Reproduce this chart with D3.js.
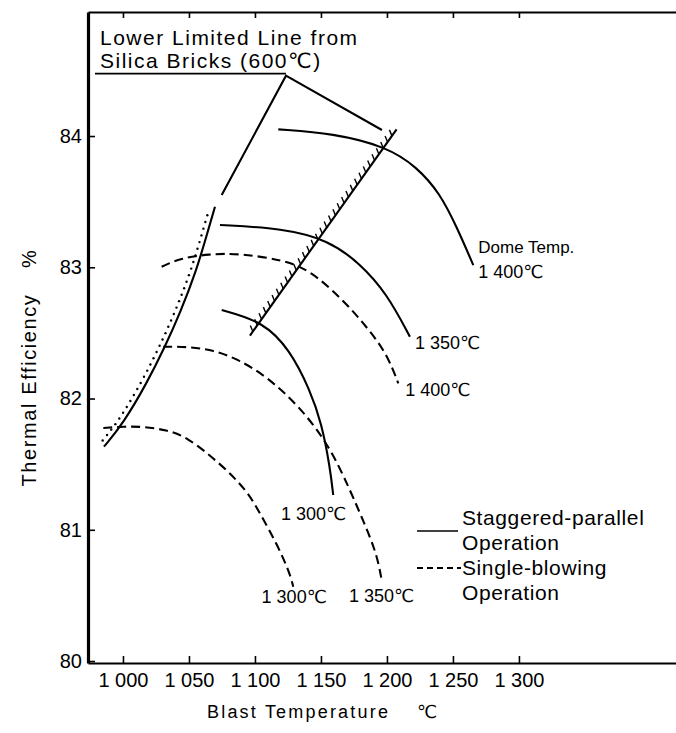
<!DOCTYPE html>
<html><head><meta charset="utf-8">
<script src="https://cdn.jsdelivr.net/npm/d3@7"></script>
<style>body{margin:0;background:#fff} svg{display:block;background:#fff}</style>
</head><body><svg id="c" width="676" height="733"></svg>
<script>
// ---------------- data ----------------
const xTicks = [1000, 1050, 1100, 1150, 1200, 1250, 1300];
const xTickLabels = ["1 000", "1 050", "1 100", "1 150", "1 200", "1 250", "1 300"];
const yTicks = [80, 81, 82, 83, 84];
const yTickLabels = ["80", "81", "82", "83", "84"];

// Staggered-parallel operation (solid), [blast temp, thermal efficiency]
const staggered1400 = [[1117.7,84.051],[1159.3,84.021],[1199.8,83.918],[1222.5,83.766],[1240.2,83.563],[1252.8,83.309],[1265.4,83.017]];
const staggered1350 = [[1073.5,83.322],[1121.4,83.297],[1155.5,83.208],[1179.5,83.030],[1199.8,82.802],[1217.4,82.471]];
const staggered1300 = [[1074.8,82.674],[1106.3,82.585],[1126.5,82.370],[1141.7,82.065],[1150.5,81.811],[1156.8,81.480],[1159.3,81.265]];

// Single-blowing operation (dashed)
const single1400 = [[1029.3,83.004],[1043.2,83.068],[1064.6,83.101],[1088.6,83.106],[1121.4,83.055],[1141.7,82.979],[1166.9,82.750],[1184.6,82.547],[1199.8,82.344],[1208.6,82.116]];
const single1350 = [[1030.5,82.395],[1048.3,82.395],[1068.4,82.370],[1088.6,82.293],[1108.9,82.166],[1134.1,81.938],[1156.8,81.633],[1172.0,81.303],[1182.0,81.070],[1192.2,80.821],[1196.0,80.617]];
const single1300 = [[985.1,81.775],[1000.2,81.787],[1015.2,81.787],[1033.1,81.760],[1048.3,81.709],[1073.5,81.506],[1093.7,81.303],[1103.8,81.125],[1116.4,80.897],[1126.5,80.668],[1129.0,80.566]];

// Limit lines
const leftLimitCurve = [[985.6,81.633],[1000.2,81.811],[1018.0,82.116],[1031.8,82.395],[1043.2,82.650],[1055.8,82.979],[1064.6,83.284],[1069.7,83.461]];
const upperLimitLine = [[1074.8,83.55],[1123.5,84.46],[1196.2,84.046]];
const labelUnderline = [[978.8,84.475],[1123.5,84.475]];
const rightLimitLine = [[1096.2,82.48],[1207.3,84.051]];

const curveLabels = ["1 400℃", "1 350℃", "1 300℃", "1 400℃", "1 350℃", "1 300℃"];
const legendLabels = [["Staggered-parallel", "Operation"], ["Single-blowing", "Operation"]];
const annotationLines = ["Lower Limited Line from", "Silica Bricks (600℃)"];

// ---------------- drawing ----------------
const svg = d3.select("#c");
const FONT = "'Liberation Sans', Arial, 'DejaVu Sans', sans-serif";

const x = d3.scaleLinear().domain([973.5, 1419]).range([88, 676]);
const y = d3.scaleLinear().domain([79.985, 84.945]).range([663, 12]);

// axes
const gL = svg.append("g").attr("transform", "translate(88,0)")
  .call(d3.axisLeft(y).tickValues(yTicks).tickFormat((d, i) => yTickLabels[i]).tickSizeInner(-7).tickSizeOuter(0).tickPadding(6));
const gB = svg.append("g").attr("transform", "translate(0,663)")
  .call(d3.axisBottom(x).tickValues(xTicks).tickFormat((d, i) => xTickLabels[i]).tickSizeInner(-7).tickSizeOuter(0).tickPadding(10));
const gT = svg.append("g").attr("transform", "translate(0,12)")
  .call(d3.axisTop(x).tickValues(xTicks).tickFormat("").tickSizeInner(-6).tickSizeOuter(0));
[gL, gB, gT].forEach(g => {
  g.selectAll("text").attr("font-family", FONT).attr("font-size", 20).attr("fill", "#000");
  g.selectAll("line").attr("stroke", "#000").attr("stroke-width", 1.6);
  g.select(".domain").attr("stroke", "#000").attr("stroke-width", 1.8);
});
gL.select(".domain").attr("stroke-width", 3.2);

// axis titles
svg.append("text").attr("transform", "translate(36,390) rotate(-90)")
  .attr("text-anchor", "middle").attr("font-family", FONT).attr("font-size", 20)
  .attr("letter-spacing", 1.6).text("Thermal Efficiency");
svg.append("text").attr("transform", "translate(36,259) rotate(-90)")
  .attr("text-anchor", "middle").attr("font-family", FONT).attr("font-size", 20).text("%");
svg.append("text").attr("x", 207).attr("y", 718).attr("font-family", FONT).attr("font-size", 18)
  .attr("letter-spacing", 2.2).text("Blast Temperature");
svg.append("text").attr("x", 417).attr("y", 718).attr("font-family", FONT).attr("font-size", 18).text("℃");

const line = d3.line().x(d => x(d[0])).y(d => y(d[1]));
const smooth = d3.line().x(d => x(d[0])).y(d => y(d[1])).curve(d3.curveBasis);

function draw(data, dashed, gen) {
  return svg.append("path").attr("d", (gen || smooth)(data)).attr("fill", "none")
    .attr("stroke", "#000").attr("stroke-width", 2.1)
    .attr("stroke-dasharray", dashed ? "9,5" : null).attr("stroke-linecap", "butt");
}

[staggered1400, staggered1350, staggered1300].forEach(d => draw(d, false));
[single1400, single1350, single1300].forEach(d => draw(d, true));

// left limit curve with dotted hatching on its upper-left side
const lc = draw(leftLimitCurve, false);
(function () {
  const node = lc.node(), L = node.getTotalLength();
  for (let s = 4; s < L - 4; s += 7) {
    const p = node.getPointAtLength(s), q = node.getPointAtLength(Math.min(L, s + 1));
    const dx = q.x - p.x, dy = q.y - p.y, n = Math.hypot(dx, dy) || 1;
    const nx = dy / n, ny = -dx / n;
    svg.append("circle").attr("cx", p.x + nx * 5).attr("cy", p.y + ny * 5)
      .attr("r", 1.2).attr("fill", "#000");
  }
})();

draw(upperLimitLine, false, line);
draw(labelUnderline, false, line).attr("stroke-width", 1.8);

// right hatched limit line
const rl = draw(rightLimitLine, false, line);
(function () {
  const node = rl.node(), L = node.getTotalLength();
  for (let s = 5; s < L - 2; s += 7.5) {
    const p = node.getPointAtLength(s);
    svg.append("line").attr("x1", p.x).attr("y1", p.y)
      .attr("x2", p.x - 2.5).attr("y2", p.y - 6)
      .attr("stroke", "#000").attr("stroke-width", 1.4);
  }
})();

// curve labels
const ends = [staggered1400, staggered1350, staggered1300, single1400, single1350, single1300].map(d => d[d.length - 1]);
const labelLayout = [
  {dx: 5, dy: 13, anchor: "start"},
  {dx: 5, dy: 12, anchor: "start"},
  {dx: 13, dy: 25, anchor: "end"},
  {dx: 7, dy: 13, anchor: "start"},
  {dx: 0, dy: 22, anchor: "middle"},
  {dx: 1, dy: 16, anchor: "middle"}
];
ends.forEach((e, i) => {
  svg.append("text").attr("x", x(e[0]) + labelLayout[i].dx).attr("y", y(e[1]) + labelLayout[i].dy)
    .attr("text-anchor", labelLayout[i].anchor).attr("font-family", FONT).attr("font-size", 18)
    .text(curveLabels[i]);
});
svg.append("text").attr("x", x(staggered1400[staggered1400.length - 1][0]) + 5)
  .attr("y", y(staggered1400[staggered1400.length - 1][1]) - 12)
  .attr("font-family", FONT).attr("font-size", 17).text("Dome Temp.");

// annotation
annotationLines.forEach((t, i) => {
  svg.append("text").attr("x", 100).attr("y", 45 + i * 23).attr("font-family", FONT)
    .attr("font-size", 21).attr("letter-spacing", 1.5).text(t);
});

// legend
const lg = svg.append("g");
legendLabels.forEach((pair, i) => {
  pair.forEach((t, j) => {
    lg.append("text").attr("x", 462).attr("y", 525 + i * 50 + j * 25).attr("font-family", FONT)
      .attr("font-size", 21).attr("letter-spacing", 0.6).text(t);
  });
});
lg.append("line").attr("x1", 417).attr("x2", 458).attr("y1", 531).attr("y2", 531)
  .attr("stroke", "#000").attr("stroke-width", 1.6);
lg.append("line").attr("x1", 417).attr("x2", 461).attr("y1", 568).attr("y2", 568)
  .attr("stroke", "#000").attr("stroke-width", 1.8).attr("stroke-dasharray", "6,4");
</script></body></html>
